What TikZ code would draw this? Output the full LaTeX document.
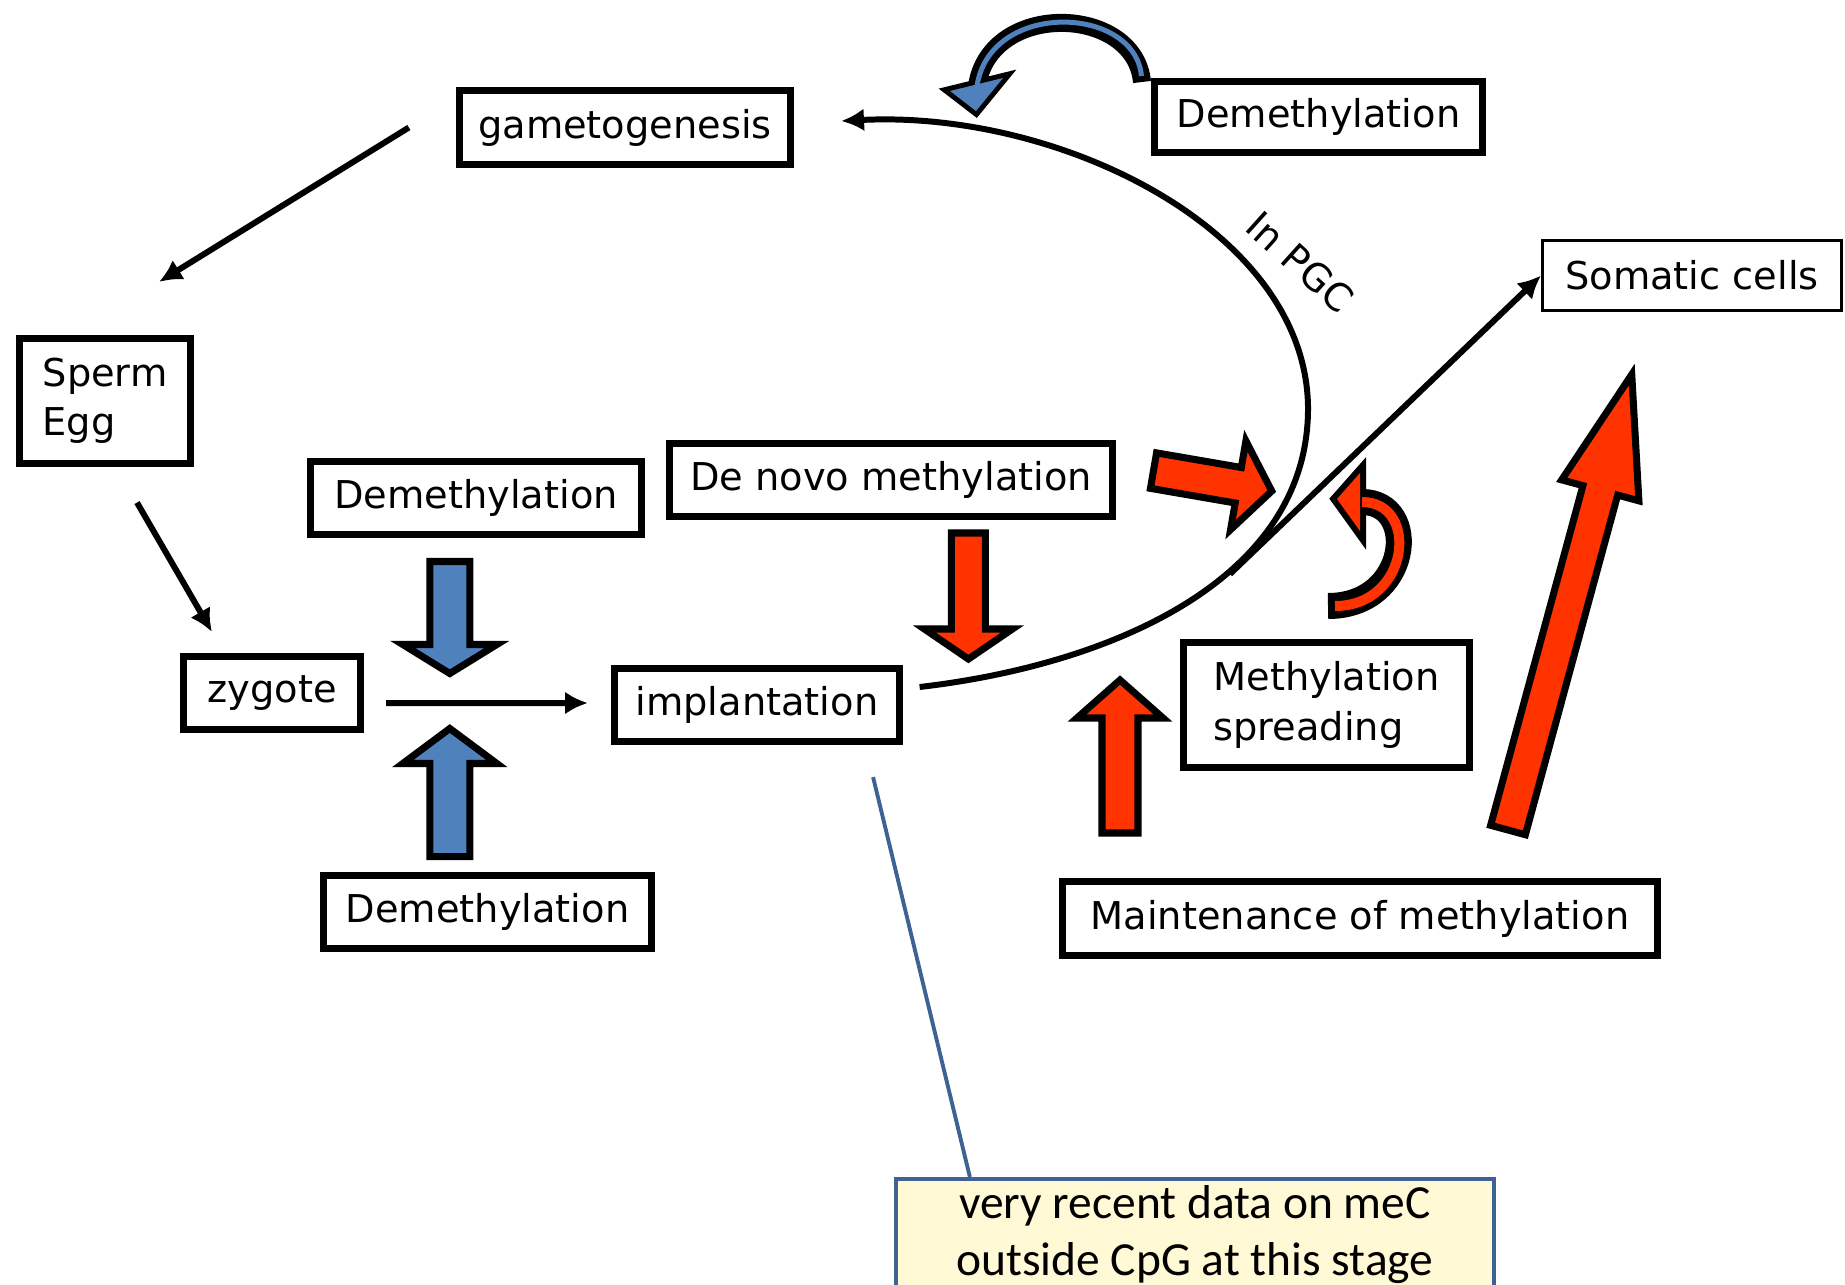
\documentclass[tikz,border=0pt]{standalone}
\usepackage{fontspec}
\setmainfont{DejaVu Sans}
\newfontfamily\notefont{Carlito}
\usetikzlibrary{arrows.meta}
\definecolor{demblue}{HTML}{4F81BD}
\definecolor{methred}{HTML}{FF3300}
\definecolor{notefill}{HTML}{FFF9D6}
\definecolor{noteline}{HTML}{3E6293}
\tikzset{>={Latex[length=6.5pt,width=6.5pt]}}
\tikzset{
  box/.style={draw=black,line width=2pt,inner sep=0pt,font=\fontsize{10.9}{14}\selectfont},
  note/.style={draw=noteline,fill=notefill,line width=1pt,minimum width=5.98cm,align=center,inner ysep=2pt,font=\notefont\fontsize{13.5}{16}\selectfont},
  conn/.style={draw=black,line width=1.7pt,->},
  blk/.style={draw=black,line width=2pt,line join=miter},
  blueblk/.style={blk,fill=demblue},
  redblk/.style={blk,fill=methred},
}

\begin{document}
\begin{tikzpicture}[x=0.01cm,y=-0.01cm]
\clip (0,0) rectangle (1845,1284);
% boxes
\node[box,minimum width=3.31cm,minimum height=0.74cm] (gameto) at (625,127.5) {gametogenesis};
\node[box,minimum width=1.71cm,minimum height=1.25cm,align=left] (sperm) at (105,401) {Sperm\\Egg};
\node[box,minimum width=1.77cm,minimum height=0.73cm] (zygote) at (272,693) {zygote};
\node[box,minimum width=3.31cm,minimum height=0.73cm] (demup) at (476,498) {Demethylation};
\node[box,minimum width=4.43cm,minimum height=0.73cm] (denovo) at (891,480) {De novo methylation};
\node[box,minimum width=2.85cm,minimum height=0.73cm] (implant) at (757,705) {implantation};
\node[box,minimum width=3.28cm,minimum height=0.73cm] (demlow) at (487.5,912) {Demethylation};
\node[box,minimum width=3.28cm,minimum height=0.71cm] (dempgc) at (1318.5,117) {Demethylation};
\node[box,line width=0.8pt,minimum width=2.99cm,minimum height=0.70cm] (somatic) at (1692,275.5) {Somatic cells};
\node[box,minimum width=2.86cm,minimum height=1.25cm,align=left] (spread) at (1326.5,705) {Methylation\\spreading};
\node[box,minimum width=5.95cm,minimum height=0.74cm] (maint) at (1360,918.5) {Maintenance of methylation};
\node[note,anchor=north] (note) at (1195,1177) {very recent data on meC\\outside CpG at this stage};
\node[rotate=-42,font=\fontsize{10.9}{14}\selectfont] (pgc) at (1300,262) {In PGC};
\coordinate (somastart) at (1230,574);
% cycle
\draw[conn] ([xshift=-0.47cm]gameto.west) -- ([xshift=0.54cm,yshift=0.53cm]sperm.north);
\draw[conn] ([xshift=0.32cm,yshift=-0.355cm]sperm.south) -- ([xshift=-0.6cm,yshift=0.21cm]zygote.north);
\draw[conn] ([xshift=0.22cm,yshift=-0.1cm]zygote.east) -- ([xshift=-0.23cm,yshift=0.02cm]implant.west);
\draw[conn] ([xshift=0.165cm,yshift=0.18cm]implant.east) .. controls (1110,665) and (1310,580) .. (1308,406)
  .. controls (1305,230) and (1060,110) .. ([xshift=0.47cm,yshift=0.065cm]gameto.east);
\draw[conn] (somastart) -- (somatic.west);
\draw[noteline,line width=1.1pt] ([xshift=1.16cm,yshift=-0.32cm]implant.south) -- ([xshift=-2.25cm]note.north);
% block arrows
\draw[blueblk,shift={(449.8,561.5)},rotate=-90] (0,-20) -- (83,-20) -- (83,-47) -- (112,0) -- (83,47) -- (83,20) -- (0,20) -- cycle;
\draw[blueblk,shift={(449.8,856.5)},rotate=90] (0,-20) -- (93,-20) -- (93,-47) -- (128,0) -- (93,47) -- (93,20) -- (0,20) -- cycle;
\draw[redblk,shift={(968.4,533)},rotate=-90] (0,-17) -- (96,-17) -- (96,-44) -- (126,0) -- (96,44) -- (96,17) -- (0,17) -- cycle;
\draw[redblk,shift={(1153.5,470.6)},rotate=-9.8] (0,-18) -- (86,-18) -- (86,-45) -- (120,0) -- (86,45) -- (86,18) -- (0,18) -- cycle;
\draw[redblk,shift={(1120,833)},rotate=90] (0,-18) -- (115,-18) -- (115,-43) -- (153,0) -- (115,43) -- (115,18) -- (0,18) -- cycle;
\draw[redblk,shift={(1508,830)},rotate=74.8] (0,-18) -- (352,-18) -- (352,-40) -- (472,0) -- (352,40) -- (352,18) -- (0,18) -- cycle;
% curled arrows
\draw[black,line width=0.26cm] (1328,606) .. controls (1410,606) and (1420,502) .. (1362,502);
\filldraw[black,line width=0.12cm,line join=miter] (1337,499) -- (1360,473) -- (1360,531) -- cycle;
\draw[methred,line width=0.1cm,shorten <=0.07cm] (1328,606) .. controls (1410,606) and (1420,502) .. (1362,502);
\fill[methred] (1337,499) -- (1360,473) -- (1360,531) -- cycle;
\draw[black,line width=0.18cm] (1142,82) .. controls (1135,5) and (990,0) .. (977,86);
\filldraw[black,line width=0.1cm,line join=miter] (976,111) -- (950,91) -- (1003,78) -- cycle;
\draw[demblue,line width=0.05cm,shorten <=0.06cm] (1142,82) .. controls (1135,5) and (990,0) .. (977,86);
\fill[demblue] (976,111) -- (950,91) -- (1003,78) -- cycle;
\end{tikzpicture}
\end{document}
